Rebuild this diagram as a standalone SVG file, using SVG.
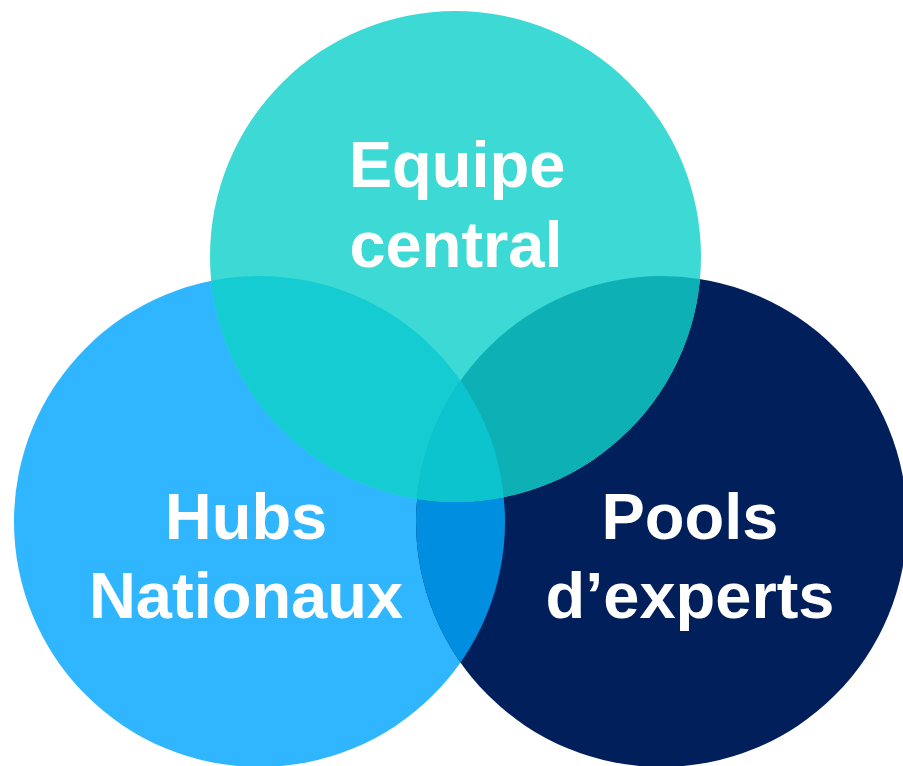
<svg xmlns="http://www.w3.org/2000/svg" width="903" height="766" viewBox="0 0 903 766">
<style>
.lbl{font-family:"Liberation Sans",Arial,sans-serif;font-weight:bold;font-size:65px;fill:#ffffff;text-anchor:middle}
</style>
<defs>
<circle id="cT" cx="455.5" cy="256.5" r="245.5"/>
<circle id="cL" cx="259.5" cy="521.5" r="245.5"/>
<circle id="cR" cx="661.5" cy="521.5" r="245.5"/>
<clipPath id="clipT"><use href="#cT"/></clipPath>
<clipPath id="clipL"><use href="#cL"/></clipPath>
<clipPath id="clipR"><use href="#cR"/></clipPath>
</defs>
<rect width="903" height="766" fill="#ffffff"/>
<g id="hubs">
<use href="#cL" fill="#30B6FF"/>
</g>
<g id="pools">
<use href="#cR" fill="#001F5B"/>
</g>
<g id="overlap-left-right" clip-path="url(#clipL)">
<use href="#cR" fill="#008FE0"/>
</g>
<g id="equipe">
<use href="#cT" fill="#3DDAD5"/>
</g>
<g id="overlap-top-left" clip-path="url(#clipT)">
<use href="#cL" fill="#14CCD2"/>
</g>
<g id="overlap-top-right" clip-path="url(#clipT)">
<use href="#cR" fill="#0DB1B5"/>
</g>
<g id="overlap-center" clip-path="url(#clipT)">
<g clip-path="url(#clipL)">
<use href="#cR" fill="#0BC4CE"/>
</g>
</g>
<g id="labels">
<text class="lbl" x="457" y="187">Equipe</text>
<text class="lbl" x="456" y="267">central</text>
<text class="lbl" x="246" y="539">Hubs</text>
<text class="lbl" x="246" y="618">Nationaux</text>
<text class="lbl" x="690" y="539">Pools</text>
<text class="lbl" x="690" y="618">d’experts</text>
</g>
</svg>
